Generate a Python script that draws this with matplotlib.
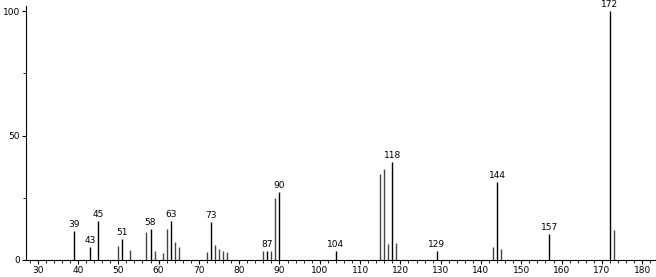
import matplotlib.pyplot as plt
import numpy as np

# m/z and relative intensity
mz = [39, 43, 45, 50, 51, 53, 57, 58, 59, 61, 62, 63, 64, 65,
      72, 73, 74, 75, 76, 77, 86, 87, 88, 89, 90, 104,
      115, 116, 117, 118, 119, 129, 143, 144, 145, 157, 172, 173]
intensity = [11.5, 5.1, 15.8, 5.6, 8.4, 4.0, 11.4, 12.3, 3.7, 2.7, 12.4, 15.7, 7.4, 5.1,
             3.1, 15.3, 5.9, 4.5, 3.5, 3.2, 3.6, 3.6, 3.6, 24.8, 27.4, 3.7,
             34.5, 36.5, 6.5, 39.4, 6.7, 3.6, 5.1, 31.2, 4.3, 10.4, 100, 12.2]
labelled = [39, 43, 45, 51, 58, 63, 73, 87, 90, 104, 118, 129, 144, 157, 172]

plt.rcParams['font.family'] = 'DejaVu Sans'
fig = plt.figure(figsize=(6.56, 2.77), dpi=100)
ax = fig.add_axes([0.0396, 0.0614, 0.9584, 0.9166])

peaks = dict(zip(mz, intensity))
for m, h in peaks.items():
    col = 'black' if m in labelled else '#444444'
    ax.vlines(m, 0, h, color=col, linewidth=1.0)

for m in labelled:
    h = peaks[m]
    if m == 87:
        h = max(peaks[86], peaks[87], peaks[88])
    ax.text(m, h + 0.8, str(m), ha='center', va='bottom', fontsize=6.5)

ax.set_xlim(27.1, 183.1)
ax.set_ylim(0, 102)
ax.set_xticks(np.arange(30, 181, 10))
ax.set_xticks(np.arange(28, 184, 2), minor=True)
ax.set_yticks([0, 50, 100])
ax.set_yticks([25, 75], minor=True)
ax.tick_params(axis='both', which='major', labelsize=6.5, length=3, width=0.8, pad=1.5)
ax.tick_params(axis='both', which='minor', length=2, width=0.6)
for s in ['top', 'right']:
    ax.spines[s].set_visible(False)
ax.spines['left'].set_linewidth(0.8)
ax.spines['bottom'].set_linewidth(0.8)

fig.savefig('out.png', dpi=100)
